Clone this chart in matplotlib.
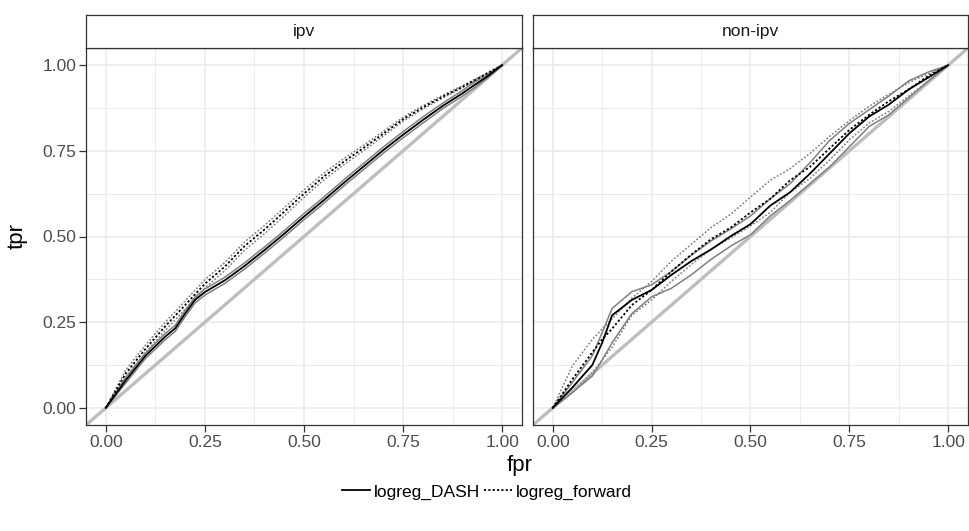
import matplotlib
matplotlib.use("Agg")
import matplotlib.pyplot as plt
from matplotlib.lines import Line2D

plt.rcParams['font.family'] = ['Liberation Sans', 'DejaVu Sans']

facets = ["ipv", "non-ipv"]
models = ["logreg_DASH", "logreg_forward"]
tick_vals = [0.0, 0.25, 0.5, 0.75, 1.0]
tick_labels = ["0.00", "0.25", "0.50", "0.75", "1.00"]

# ---- ipv panel ----
ipv_dash_fpr = [0, 0.05, 0.1, 0.15, 0.175, 0.2, 0.225, 0.25, 0.3, 0.35, 0.4, 0.45, 0.5,
                0.55, 0.6, 0.65, 0.7, 0.75, 0.8, 0.85, 0.9, 0.93, 0.96, 1.0]
ipv_dash_tpr = [0, 0.080, 0.152, 0.208, 0.232, 0.275, 0.315, 0.338, 0.372, 0.414, 0.460, 0.508, 0.558,
                0.606, 0.656, 0.704, 0.752, 0.797, 0.840, 0.881, 0.918, 0.942, 0.965, 1.0]
ipv_dash_hi = [0, 0.088, 0.160, 0.217, 0.241, 0.284, 0.323, 0.347, 0.381, 0.423, 0.469, 0.517, 0.567,
               0.615, 0.665, 0.713, 0.761, 0.806, 0.849, 0.889, 0.926, 0.950, 0.970, 1.0]
ipv_dash_lo = [0, 0.072, 0.144, 0.199, 0.223, 0.266, 0.306, 0.329, 0.363, 0.405, 0.451, 0.499, 0.549,
               0.597, 0.647, 0.695, 0.743, 0.788, 0.831, 0.873, 0.910, 0.934, 0.960, 1.0]

ipv_fwd_fpr = [0, 0.05, 0.1, 0.15, 0.2, 0.25, 0.3, 0.35, 0.4, 0.45, 0.5, 0.55, 0.6,
               0.65, 0.7, 0.75, 0.8, 0.85, 0.9, 0.95, 1.0]
ipv_fwd_tpr = [0, 0.100, 0.172, 0.238, 0.300, 0.362, 0.412, 0.472, 0.520, 0.572, 0.625, 0.675, 0.718,
               0.758, 0.800, 0.842, 0.877, 0.908, 0.937, 0.968, 1.0]
ipv_fwd_hi = [0, 0.110, 0.183, 0.250, 0.312, 0.374, 0.424, 0.484, 0.532, 0.584, 0.636, 0.685, 0.727,
              0.766, 0.807, 0.848, 0.882, 0.912, 0.940, 0.970, 1.0]
ipv_fwd_lo = [0, 0.090, 0.161, 0.226, 0.288, 0.350, 0.400, 0.460, 0.508, 0.560, 0.614, 0.665, 0.709,
              0.750, 0.793, 0.836, 0.872, 0.904, 0.934, 0.966, 1.0]

# ---- non-ipv panel ----
nip_fpr = [0, 0.05, 0.1, 0.125, 0.15, 0.2, 0.25, 0.3, 0.35, 0.4, 0.45, 0.5, 0.55,
           0.6, 0.65, 0.7, 0.75, 0.8, 0.85, 0.9, 0.95, 1.0]
nip_dash_tpr = [0, 0.060, 0.125, 0.190, 0.270, 0.315, 0.344, 0.388, 0.428, 0.462, 0.501, 0.536, 0.590,
                0.629, 0.683, 0.742, 0.801, 0.850, 0.885, 0.929, 0.964, 1.0]
nip_dash_hi = [0, 0.075, 0.152, 0.220, 0.290, 0.339, 0.359, 0.398, 0.445, 0.487, 0.522, 0.560, 0.610,
               0.654, 0.715, 0.780, 0.830, 0.870, 0.910, 0.954, 0.980, 1.0]
nip_dash_lo = [0, 0.045, 0.093, 0.140, 0.190, 0.275, 0.324, 0.349, 0.388, 0.433, 0.472, 0.505, 0.560,
               0.605, 0.654, 0.703, 0.762, 0.821, 0.855, 0.905, 0.954, 1.0]
nip_fwd_tpr = [0, 0.084, 0.162, 0.200, 0.231, 0.300, 0.344, 0.398, 0.447, 0.492, 0.526, 0.570, 0.610,
               0.664, 0.703, 0.757, 0.811, 0.855, 0.895, 0.929, 0.969, 1.0]
nip_fwd_hi = [0, 0.123, 0.200, 0.230, 0.260, 0.320, 0.369, 0.428, 0.477, 0.526, 0.565, 0.615, 0.664,
              0.698, 0.742, 0.792, 0.838, 0.880, 0.915, 0.949, 0.975, 1.0]
nip_fwd_lo = [0, 0.044, 0.103, 0.140, 0.177, 0.270, 0.315, 0.369, 0.418, 0.462, 0.496, 0.531, 0.570,
              0.629, 0.669, 0.723, 0.782, 0.831, 0.865, 0.910, 0.954, 1.0]

panels = {
    "ipv": [
        ("logreg_DASH", ipv_dash_fpr, ipv_dash_lo, ipv_dash_tpr, ipv_dash_hi),
        ("logreg_forward", ipv_fwd_fpr, ipv_fwd_lo, ipv_fwd_tpr, ipv_fwd_hi),
    ],
    "non-ipv": [
        ("logreg_DASH", nip_fpr, nip_dash_lo, nip_dash_tpr, nip_dash_hi),
        ("logreg_forward", nip_fpr, nip_fwd_lo, nip_fwd_tpr, nip_fwd_hi),
    ],
}

W, H = 970, 531
fig = plt.figure(figsize=(W / 100, H / 100), dpi=100)

dotted = (0, (1.2, 1.2))
styles = {"logreg_DASH": "-", "logreg_forward": dotted}
border = "#333333"
grid_c = "#EBEBEB"

panel_x = [(86, 522), (533, 968)]
ptop, pbot, stop = 48, 425, 15

for i, (fac, (x0, x1)) in enumerate(zip(facets, panel_x)):
    ax = fig.add_axes([x0 / W, (H - pbot) / H, (x1 - x0) / W, (pbot - ptop) / H])
    ax.set_xlim(-0.05, 1.05)
    ax.set_ylim(-0.05, 1.05)
    ax.set_xticks(tick_vals)
    ax.set_xticklabels(tick_labels)
    ax.set_yticks(tick_vals)
    ax.set_yticks([0.125, 0.375, 0.625, 0.875], minor=True)
    ax.set_xticks([0.125, 0.375, 0.625, 0.875], minor=True)
    ax.grid(True, which="major", color=grid_c, lw=1.2, zorder=0)
    ax.grid(True, which="minor", color=grid_c, lw=0.7, zorder=0)
    ax.set_axisbelow(True)
    ax.tick_params(which="minor", length=0)
    ax.tick_params(which="major", length=5, width=0.9, color=border,
                   labelsize=12.5, labelcolor="#4D4D4D", pad=2)
    if i == 0:
        ax.set_yticklabels(tick_labels)
    else:
        ax.tick_params(axis="y", left=False, labelleft=False)
    for s in ax.spines.values():
        s.set_color(border)
        s.set_linewidth(0.9)

    ax.axline((0, 0), (1, 1), color="#BEBEBE", lw=2.4, zorder=1)
    for name, fx, lo, mid, hi in panels[fac]:
        ls = styles[name]
        ax.plot(fx, lo, color="#808080", lw=1.1, ls=ls, zorder=2)
        ax.plot(fx, hi, color="#808080", lw=1.1, ls=ls, zorder=2)
        ax.plot(fx, mid, color="black", lw=1.3, ls=ls, zorder=3)

    sax = fig.add_axes([x0 / W, (H - ptop) / H, (x1 - x0) / W, (ptop - stop) / H])
    sax.set_xticks([])
    sax.set_yticks([])
    sax.set_facecolor("white")
    for s in sax.spines.values():
        s.set_color(border)
        s.set_linewidth(0.9)
    sax.text(0.5, 0.5, fac, ha="center", va="center", fontsize=12.5, color="#1A1A1A",
             transform=sax.transAxes)

fig.text(520 / W, 1 - 465 / H, "fpr", ha="center", va="center", fontsize=16)
fig.text(17 / W, 1 - 236 / H, "tpr", ha="center", va="center", fontsize=16, rotation=90)

handles = [Line2D([], [], color="black", lw=1.3, ls=styles[m]) for m in models]
fig.legend(handles, models, loc="center", bbox_to_anchor=(487 / W, 1 - 492 / H), ncol=2,
           frameon=False, fontsize=12.5, handlelength=1.6, handletextpad=0.25,
           columnspacing=0.2)

fig.savefig("out.png", dpi=100, facecolor="white")
